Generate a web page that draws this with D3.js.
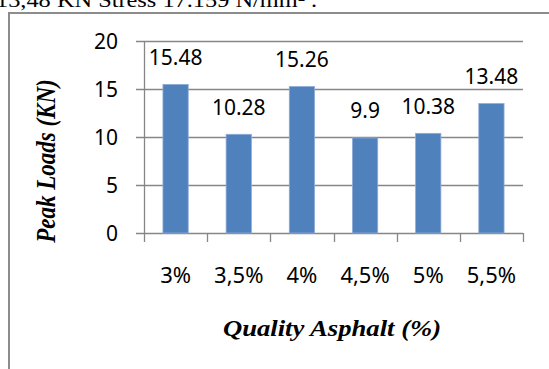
<!DOCTYPE html>
<html>
<head>
<meta charset="utf-8">
<script src="https://cdn.jsdelivr.net/npm/d3@7"></script>
<style>
  html, body { margin: 0; padding: 0; background: #fff; overflow: hidden; }
  svg { display: block; }
</style>
</head>
<body>
<svg id="chart" width="549" height="369"></svg>
<script>
// Peak load per asphalt content
const categories = ["3%", "3,5%", "4%", "4,5%", "5%", "5,5%"];
const peakLoads = [15.48, 10.28, 15.26, 9.9, 10.38, 13.48];
const valueLabels = ["15.48", "10.28", "15.26", "9.9", "10.38", "13.48"];
const yTicks = [0, 5, 10, 15, 20];
const yTitle = "Peak Loads (KN)";
const xTitle = "Quality Asphalt (%)";
const headerText = "13,48 KN Stress 17.159 N/mm² .";

const svg = d3.select("#chart");
const labelFont = "'Noto Sans', 'Open Sans', sans-serif";
const serifFont = "'Liberation Serif', 'Times New Roman', serif";
const stretch = 1.16; // serif text is set slightly wide

// line of body text above the figure, cropped by the top edge
svg.append("text")
  .attr("transform", `translate(-4,7) scale(${stretch},1)`)
  .attr("font-family", serifFont)
  .attr("font-size", 21)
  .attr("fill", "#000")
  .text(headerText);

// figure frame
svg.append("rect")
  .attr("x", 9).attr("y", 13)
  .attr("width", 600).attr("height", 400)
  .attr("fill", "none")
  .attr("stroke", "#8c8c8c")
  .attr("stroke-width", 2);

const plot = { left: 144, right: 523, top: 41, bottom: 233 };

const x = d3.scaleBand()
  .domain(categories)
  .range([plot.left, plot.right])
  .padding(0);

const y = d3.scaleLinear()
  .domain([0, 20])
  .range([plot.bottom, plot.top]);

// horizontal gridlines with outside tick stubs
svg.append("g")
  .selectAll("line")
  .data(yTicks)
  .join("line")
  .attr("x1", plot.left - 8)
  .attr("x2", plot.right)
  .attr("y1", d => Math.round(y(d)) + 0.5)
  .attr("y2", d => Math.round(y(d)) + 0.5)
  .attr("stroke", "#868686")
  .attr("stroke-width", 1.3);

// y-axis labels
svg.append("g")
  .selectAll("text")
  .data(yTicks)
  .join("text")
  .attr("x", plot.left - 26)
  .attr("y", d => y(d))
  .attr("dy", "0.36em")
  .attr("text-anchor", "end")
  .attr("font-family", labelFont)
  .attr("font-size", 21)
  .attr("fill", "#000")
  .text(d => d);

// vertical axis line
svg.append("line")
  .attr("x1", plot.left + 0.5).attr("x2", plot.left + 0.5)
  .attr("y1", plot.top).attr("y2", plot.bottom)
  .attr("stroke", "#868686")
  .attr("stroke-width", 1.3);

// category boundary ticks on the x axis
const boundaries = categories.map(c => x(c)).concat([plot.right]);
svg.append("g")
  .selectAll("line")
  .data(boundaries)
  .join("line")
  .attr("x1", d => Math.round(d) + 0.5)
  .attr("x2", d => Math.round(d) + 0.5)
  .attr("y1", plot.bottom)
  .attr("y2", plot.bottom + 9)
  .attr("stroke", "#868686")
  .attr("stroke-width", 1.3);

// bars
const barW = x.bandwidth() * 0.4;
svg.append("g")
  .selectAll("rect")
  .data(peakLoads)
  .join("rect")
  .attr("x", (d, i) => x(categories[i]) + (x.bandwidth() - barW) / 2)
  .attr("y", d => y(d))
  .attr("width", barW)
  .attr("height", d => y(0) - y(d))
  .attr("fill", "#4f81bd")
  .attr("stroke", "#8eaad6")
  .attr("stroke-width", 0.8);

// value labels above bars
svg.append("g")
  .selectAll("text")
  .data(peakLoads)
  .join("text")
  .attr("x", (d, i) => x(categories[i]) + x.bandwidth() / 2)
  .attr("y", d => y(d) - 19.5)
  .attr("text-anchor", "middle")
  .attr("font-family", labelFont)
  .attr("font-size", 21)
  .attr("fill", "#000")
  .text((d, i) => valueLabels[i]);

// x-axis category labels
svg.append("g")
  .selectAll("text")
  .data(categories)
  .join("text")
  .attr("x", d => x(d) + x.bandwidth() / 2)
  .attr("y", 283)
  .attr("text-anchor", "middle")
  .attr("font-family", labelFont)
  .attr("font-size", 22)
  .attr("fill", "#000")
  .text(d => d);

// axis titles
svg.append("text")
  .attr("transform", `translate(55,161) scale(${stretch},1) rotate(-90)`)
  .attr("text-anchor", "middle")
  .attr("font-family", serifFont)
  .attr("font-style", "italic")
  .attr("font-weight", "bold")
  .attr("font-size", 23)
  .attr("fill", "#000")
  .text(yTitle);

svg.append("text")
  .attr("transform", `translate(332,336) scale(${stretch},1)`)
  .attr("text-anchor", "middle")
  .attr("font-family", serifFont)
  .attr("font-style", "italic")
  .attr("font-weight", "bold")
  .attr("font-size", 23)
  .attr("fill", "#000")
  .text(xTitle);
</script>
</body>
</html>
